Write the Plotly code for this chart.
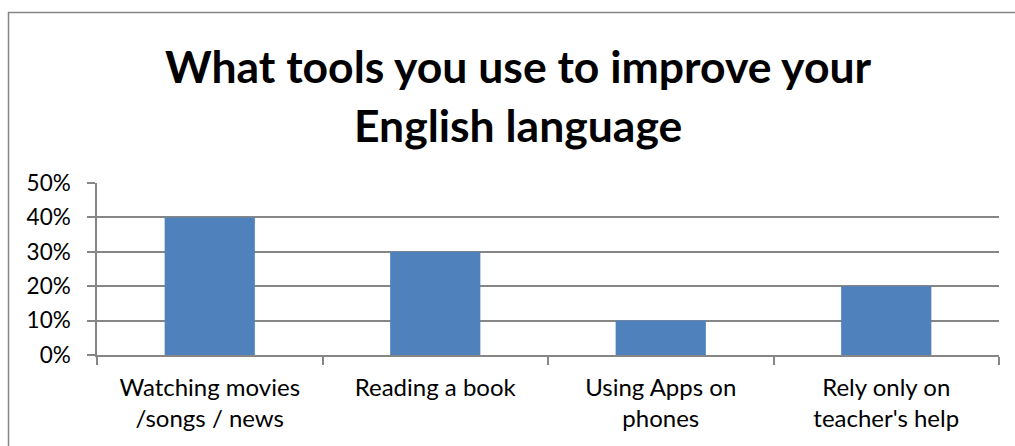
import plotly.graph_objects as go

categories = ["Watching movies<br>/songs / news", "Reading a book",
              "Using Apps on<br>phones", "Rely only on<br>teacher's help"]
shares = [0.40, 0.30, 0.10, 0.20]
y_ticks = [0, 0.1, 0.2, 0.3, 0.4, 0.5]
y_tick_labels = ["0%", "10%", "20%", "30%", "40%", "50%"]
title_lines = ["What tools you use to improve your", "English language"]

FONT = "Lato"
GRID = "#868686"

fig = go.Figure(go.Bar(
    x=categories, y=shares, marker_color="#4F81BD", marker_line_width=0,
    width=0.4,
))

fig.update_layout(
    width=1015, height=446,
    margin=dict(l=97, r=16, t=183, b=91),
    paper_bgcolor="white", plot_bgcolor="white",
    font=dict(family=FONT, color="#000000", size=22),
    showlegend=False,
)

fig.update_yaxes(
    range=[0, 0.5], tickvals=y_ticks, ticktext=y_tick_labels,
    showgrid=True, gridcolor=GRID, gridwidth=1.5,
    showline=True, linecolor=GRID, linewidth=1.5,
    ticks="outside", ticklen=8, tickcolor=GRID, tickwidth=1.5,
    ticklabelstandoff=12, zeroline=False,
    tickfont=dict(size=22.5, family=FONT),
)
fig.update_xaxes(
    showline=True, linecolor=GRID, linewidth=1.5,
    ticks="outside", ticklen=8, tickcolor=GRID, tickwidth=1.5,
    tickson="boundaries", showgrid=False, ticklabelstandoff=10,
    tickfont=dict(size=24, family=FONT),
)

# chart frame
fig.add_shape(type="rect", xref="paper", yref="paper",
              x0=-0.0981, x1=1.04, y0=-0.62, y1=1.991,
              line=dict(color="#868686", width=1.5), fillcolor="rgba(0,0,0,0)")

# two-line bold title
for text, ypx in zip(title_lines, [66, 124]):
    fig.add_annotation(
        text=f"<b>{text}</b>", xref="paper", yref="paper",
        x=(518 - 97) / 902, y=(355 - ypx) / 172,
        xanchor="center", yanchor="middle", showarrow=False,
        font=dict(family=FONT, size=44.5, color="#000000"),
    )

fig.write_html("out.html")
